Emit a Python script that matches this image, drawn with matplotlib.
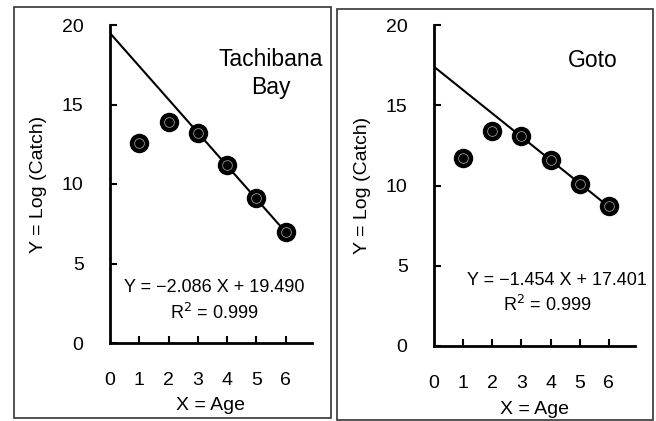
import numpy as np
import matplotlib.pyplot as plt
from matplotlib.patches import Rectangle

plt.rcParams['font.family'] = ['Liberation Sans', 'DejaVu Sans']

age = [1, 2, 3, 4, 5, 6]
tachibana_catch = [12.6, 13.9, 13.2, 11.2, 9.1, 7.0]
goto_catch = [11.7, 13.4, 13.1, 11.6, 10.1, 8.7]
tachibana_fit = (-2.086, 19.490)
goto_fit = (-1.454, 17.401)
x_ticks = [0, 1, 2, 3, 4, 5, 6]
y_ticks = [0, 5, 10, 15, 20]

W, H = 656, 421
fig = plt.figure(figsize=(W / 100, H / 100), dpi=100)


def px_rect(x0, y0, x1, y1):
    # pixel box (top-left origin) -> figure fraction
    return [x0 / W, 1 - y1 / H, (x1 - x0) / W, (y1 - y0) / H]


def panel(rect, catch, fit, name, name_xy, eq_xy, r2_xy):
    ax = fig.add_axes(px_rect(*rect))
    ax.set_xlim(0, 6.9)
    ax.set_ylim(0, 20)
    for s in ['top', 'right']:
        ax.spines[s].set_visible(False)
    for s in ['left', 'bottom']:
        ax.spines[s].set_linewidth(2)
    ax.set_xticks(x_ticks)
    ax.set_yticks(y_ticks)
    ax.tick_params(direction='in', length=5, width=1.5, labelsize=14)
    ax.tick_params(axis='x', pad=21)
    ax.tick_params(axis='y', pad=19)
    ax.xaxis.get_major_ticks()[0].tick1line.set_visible(False)

    slope, icpt = fit
    xs = np.array([0, 6])
    ax.plot(xs, slope * xs + icpt, color='black', lw=1.5, zorder=2)
    ax.plot(age, catch, 'o', ms=13, color='black', zorder=3)
    ax.plot(age, catch, 'o', ms=7, mfc='none', mec='#999999', mew=0.6, zorder=4)

    ax.text(name_xy[0], name_xy[1], name, ha='center', va='center',
            fontsize=16.5, linespacing=1.3)
    ax.text(eq_xy[0], eq_xy[1], f'Y = \u2212{abs(slope):.3f} X + {icpt:.3f}',
            ha='center', va='center', fontsize=13)
    ax.text(r2_xy[0], r2_xy[1], 'R$^2$ = 0.999', ha='center', va='center',
            fontsize=13)
    ax.set_xlabel('X = Age', fontsize=14, labelpad=6)
    ax.set_ylabel('Y = Log (Catch)', fontsize=14, labelpad=11)
    return ax


panel((110, 25, 312, 343), tachibana_catch, tachibana_fit, 'Tachibana\nBay',
      (5.48, 16.95), (3.57, 3.5), (3.55, 1.9))
panel((434, 25, 635, 346), goto_catch, goto_fit, 'Goto',
      (5.45, 17.8), (4.23, 4.1), (3.88, 2.55))

for x0, y0, x1, y1 in [(14, 7, 331, 418), (337, 9, 653, 420)]:
    fig.patches.append(Rectangle((x0 / W, 1 - y1 / H), (x1 - x0) / W, (y1 - y0) / H,
                                 transform=fig.transFigure, fill=False,
                                 edgecolor='#333333', lw=1.2))

fig.savefig('out.png', dpi=100)
